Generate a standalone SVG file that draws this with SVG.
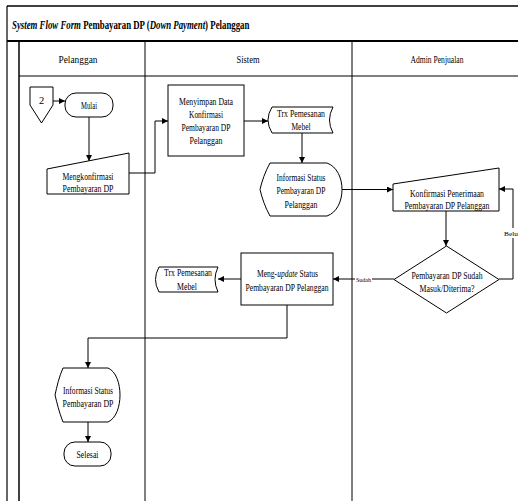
<svg xmlns="http://www.w3.org/2000/svg" width="518" height="501" viewBox="0 0 518 501">
<style>
text{font-family:'Liberation Serif','DejaVu Serif',serif}
.t{font-size:10.5px;text-anchor:middle;fill:#000}
.s{font-size:7px;text-anchor:middle;fill:#000}
.ti{font-size:12px;font-weight:bold;fill:#000}
.sh{fill:#fff;stroke:#000;stroke-width:1}
.ln{fill:none;stroke:#000;stroke-width:1}
.fr{fill:none;stroke:#000}
</style>
<defs>
<marker id="ah" viewBox="0 0 10 10" refX="10" refY="5" markerWidth="6" markerHeight="6" markerUnits="userSpaceOnUse" orient="auto"><path d="M0,0 L10,5 L0,10 z" fill="#000"/></marker>
</defs>
<rect width="518" height="501" fill="#fff"/>
<g id="frame">
<line class="fr" x1="7" y1="6" x2="518" y2="6" stroke-width="1.5"/>
<line class="fr" x1="7" y1="6" x2="7" y2="501" stroke-width="1.2"/>
<line class="fr" x1="7" y1="41" x2="518" y2="41" stroke-width="2"/>
<line class="fr" x1="19" y1="41" x2="19" y2="501" stroke-width="1.5"/>
<line class="fr" x1="19" y1="76" x2="518" y2="76" stroke-width="1"/>
<line class="fr" x1="145" y1="41" x2="145" y2="501" stroke-width="1"/>
<line class="fr" x1="352" y1="41" x2="352" y2="501" stroke-width="1"/>
<text class="ti" transform="translate(12,29) scale(0.734,1)" x="0" y="0"><tspan font-style="italic">System Flow Form</tspan> Pembayaran DP (<tspan font-style="italic">Down Payment</tspan>) Pelanggan</text>
<text class="t" x="78" y="62.5" textLength="39" lengthAdjust="spacingAndGlyphs">Pelanggan</text>
<text class="t" x="248" y="62.5" textLength="23" lengthAdjust="spacingAndGlyphs">Sistem</text>
<text class="t" x="437" y="62.5" textLength="53" lengthAdjust="spacingAndGlyphs">Admin Penjualan</text>
</g>
<g id="connectors">
<line class="ln" x1="53" y1="101" x2="65" y2="101" marker-end="url(#ah)"/>
<line class="ln" x1="89" y1="117" x2="89" y2="161" marker-end="url(#ah)"/>
<polyline class="ln" points="129,173 155,173 155,121 168,121" marker-end="url(#ah)"/>
<line class="ln" x1="244" y1="121" x2="268" y2="121" marker-end="url(#ah)"/>
<line class="ln" x1="302" y1="133" x2="302" y2="163" marker-end="url(#ah)"/>
<line class="ln" x1="342" y1="189.5" x2="393" y2="189.5" marker-end="url(#ah)"/>
<line class="ln" x1="446" y1="211" x2="446" y2="246" marker-end="url(#ah)"/>
<polyline class="ln" points="499,279 513,279 513,189 499,189" marker-end="url(#ah)"/>
<line class="ln" x1="394" y1="279" x2="333" y2="279" marker-end="url(#ah)"/>
<line class="ln" x1="241" y1="279" x2="218" y2="279" marker-end="url(#ah)"/>
<polyline class="ln" points="287,305 287,338 88,338 88,368" marker-end="url(#ah)"/>
<line class="ln" x1="88" y1="422" x2="88" y2="442" marker-end="url(#ah)"/>
<rect x="503" y="228" width="15" height="10" fill="#fff"/>
<text class="s" x="511" y="235.5" textLength="14" lengthAdjust="spacingAndGlyphs">Belu</text>
<rect x="355" y="274" width="17" height="10" fill="#fff"/>
<text class="s" x="363.5" y="281.5" textLength="15" lengthAdjust="spacingAndGlyphs">Sudah</text>
</g>
<g id="offpage2">
<polygon class="sh" points="30,87 53,87 53,105 41.5,123 30,105"/>
<text class="t" x="41.5" y="104">2</text>
</g>
<g id="mulai">
<rect class="sh" x="65" y="93" width="48" height="24" rx="11"/>
<text class="t" x="89" y="108.5" textLength="16" lengthAdjust="spacingAndGlyphs">Mulai</text>
</g>
<g id="mengkonfirmasi">
<polygon class="sh" points="47,169 129,153 129,194 47,194"/>
<text class="t" x="88" y="179.5" textLength="51" lengthAdjust="spacingAndGlyphs">Mengkonfirmasi</text>
<text class="t" x="88" y="191.5" textLength="51" lengthAdjust="spacingAndGlyphs">Pembayaran DP</text>
</g>
<g id="menyimpan">
<rect class="sh" x="168" y="85" width="76" height="71"/>
<text class="t" x="206" y="104.5" textLength="54" lengthAdjust="spacingAndGlyphs">Menyimpan Data</text>
<text class="t" x="206" y="117.5" textLength="34" lengthAdjust="spacingAndGlyphs">Konfirmasi</text>
<text class="t" x="206" y="130.5" textLength="49" lengthAdjust="spacingAndGlyphs">Pembayaran DP</text>
<text class="t" x="206" y="143.5" textLength="33" lengthAdjust="spacingAndGlyphs">Pelanggan</text>
</g>
<g id="trx1">
<path class="sh" d="M272,107 L333,107 Q326,120 333,133 L272,133 Q264,120 272,107 Z"/>
<text class="t" x="301" y="116.5" textLength="48" lengthAdjust="spacingAndGlyphs">Trx Pemesanan</text>
<text class="t" x="301" y="130" textLength="19" lengthAdjust="spacingAndGlyphs">Mebel</text>
</g>
<g id="informasi1">
<path class="sh" d="M270,163 L327,163 C347,170 347,209 327,216 L270,216 C265,207 262,198 260,189.5 C262,181 265,172 270,163 Z"/>
<text class="t" x="301" y="180.5" textLength="49" lengthAdjust="spacingAndGlyphs">Informasi Status</text>
<text class="t" x="301" y="193.5" textLength="49" lengthAdjust="spacingAndGlyphs">Pembayaran DP</text>
<text class="t" x="301" y="207.5" textLength="33" lengthAdjust="spacingAndGlyphs">Pelanggan</text>
</g>
<g id="konfirmasi">
<polygon class="sh" points="393,184 499,168 499,211 393,211"/>
<text class="t" x="447" y="196.5" textLength="74" lengthAdjust="spacingAndGlyphs">Konfirmasi Penerimaan</text>
<text class="t" x="447" y="209" textLength="85" lengthAdjust="spacingAndGlyphs">Pembayaran DP Pelanggan</text>
</g>
<g id="keputusan">
<polygon class="sh" points="446.5,246 499,279.5 446.5,313 394,279.5"/>
<text class="t" x="447" y="279" textLength="71" lengthAdjust="spacingAndGlyphs">Pembayaran DP Sudah</text>
<text class="t" x="447" y="291.5" textLength="55" lengthAdjust="spacingAndGlyphs">Masuk/Diterima?</text>
</g>
<g id="mengupdate">
<rect class="sh" x="241" y="253" width="92" height="52"/>
<text class="t" transform="translate(287.5,276.5) scale(0.72,1)" x="0" y="0">Meng-<tspan font-style="italic">update</tspan> Status</text>
<text class="t" x="287" y="290.5" textLength="83" lengthAdjust="spacingAndGlyphs">Pembayaran DP Pelanggan</text>
</g>
<g id="trx2">
<path class="sh" d="M159,267 L218,267 Q212,279.5 218,292 L159,292 Q152,279.5 159,267 Z"/>
<text class="t" x="188" y="275.5" textLength="48" lengthAdjust="spacingAndGlyphs">Trx Pemesanan</text>
<text class="t" x="187" y="289.5" textLength="20" lengthAdjust="spacingAndGlyphs">Mebel</text>
</g>
<g id="informasi2">
<path class="sh" d="M63,368 L108,368 C124,375 124,415 108,422 L63,422 C59,412 57,403 55,395 C57,386 59,377 63,368 Z"/>
<text class="t" x="88" y="393.5" textLength="50" lengthAdjust="spacingAndGlyphs">Informasi Status</text>
<text class="t" x="88" y="406.5" textLength="51" lengthAdjust="spacingAndGlyphs">Pembayaran DP</text>
</g>
<g id="selesai">
<rect class="sh" x="64" y="442" width="47" height="24" rx="11"/>
<text class="t" x="87.5" y="457.5" textLength="22" lengthAdjust="spacingAndGlyphs">Selesai</text>
</g>
</svg>
